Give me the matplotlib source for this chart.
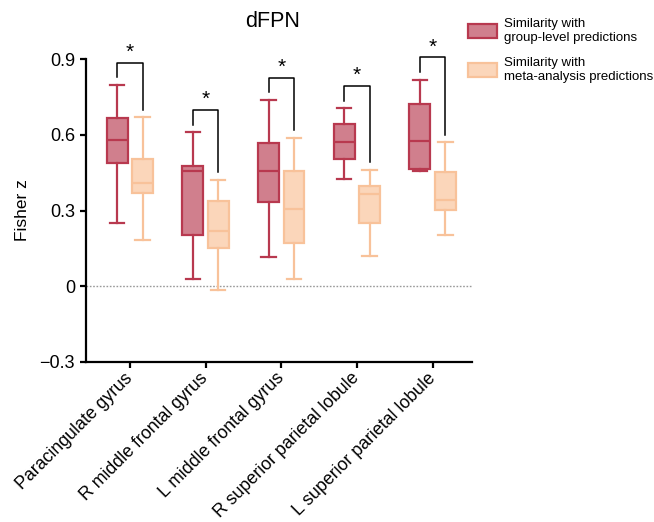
import matplotlib
matplotlib.use("Agg")
import matplotlib.pyplot as plt
from matplotlib.patches import Patch
from matplotlib.transforms import ScaledTranslation

plt.rcParams['font.family'] = ['Liberation Sans', 'DejaVu Sans']

regions = ["Paracingulate gyrus", "R middle frontal gyrus", "L middle frontal gyrus",
           "R superior parietal lobule", "L superior parietal lobule"]

# group-level predictions: whislo, q1, med, q3, whishi
group_whislo = [0.251, 0.029, 0.115, 0.424, 0.456]
group_q1     = [0.489, 0.201, 0.334, 0.503, 0.466]
group_med    = [0.581, 0.457, 0.457, 0.570, 0.577]
group_q3     = [0.665, 0.477, 0.568, 0.641, 0.720]
group_whishi = [0.797, 0.610, 0.738, 0.705, 0.818]

# meta-analysis predictions
meta_whislo = [0.185, -0.013, 0.029, 0.120, 0.201]
meta_q1     = [0.370, 0.151, 0.173, 0.250, 0.302]
meta_med    = [0.409, 0.218, 0.305, 0.366, 0.342]
meta_q3     = [0.503, 0.338, 0.456, 0.398, 0.451]
meta_whishi = [0.669, 0.421, 0.588, 0.461, 0.570]

significant = [True, True, True, True, True]

red_edge, red_fill = "#b8394f", "#d07f8d"
org_edge, org_fill = "#f8c29a", "#fbd6ba"

fig = plt.figure(figsize=(6.54, 5.22), dpi=100)
ax = fig.add_axes([86/654, 1-362/522, (472-86)/654, (362-59)/522])

off = 0.168
width = 0.277

def stats(lo, q1, med, q3, hi):
    return [dict(whislo=a, q1=b, med=c, q3=d, whishi=e, fliers=[]) for a, b, c, d, e in zip(lo, q1, med, q3, hi)]

xs = list(range(len(regions)))
for st, pos, ec, fc in [
    (stats(group_whislo, group_q1, group_med, group_q3, group_whishi), [x - off for x in xs], red_edge, red_fill),
    (stats(meta_whislo, meta_q1, meta_med, meta_q3, meta_whishi), [x + off for x in xs], org_edge, org_fill)]:
    ax.bxp(st, positions=pos, widths=width, patch_artist=True, showfliers=False,
           capwidths=0.19,
           boxprops=dict(facecolor=fc, edgecolor=ec, linewidth=1.6),
           medianprops=dict(color=ec, linewidth=1.6),
           whiskerprops=dict(color=ec, linewidth=1.6),
           capprops=dict(color=ec, linewidth=1.6))

ax.axhline(0, color="#999999", linestyle=(0, (1.2, 1.2)), linewidth=1.0, zorder=0)

for i, sig in enumerate(significant):
    if not sig:
        continue
    top = group_whishi[i] + 0.088
    xl, xr = i - off, i + off
    ax.plot([xl, xl, xr, xr], [group_whishi[i] + 0.03, top, top, meta_whishi[i] + 0.03],
            color="black", linewidth=1.1, clip_on=False)
    ax.text(i, top + 0.003, "*", ha="center", va="bottom", fontsize=15, clip_on=False)

ax.set_xlim(-0.58, 4.52)
ax.set_ylim(-0.3, 0.9)
ax.spines["top"].set_visible(False)
ax.spines["right"].set_visible(False)
ax.spines["left"].set_linewidth(1.6)
ax.spines["bottom"].set_linewidth(1.6)
ax.tick_params(axis="both", direction="out", length=4, width=1.6, pad=4)
ax.set_yticks([-0.3, 0, 0.3, 0.6, 0.9])
ax.set_yticklabels(["\u22120.3", "0", "0.3", "0.6", "0.9"], fontsize=13)
ax.set_xticks(xs)
ax.set_xticklabels(regions, rotation=45, ha="right", rotation_mode="anchor", fontsize=12.8)
shift = ScaledTranslation(-6/100, 3.5/100, fig.dpi_scale_trans)
for lab in ax.get_xticklabels():
    lab.set_transform(lab.get_transform() + shift)
ax.set_ylabel("Fisher z", fontsize=12.5, labelpad=7)
ax.set_title("dFPN", fontsize=15.5, pad=23, x=(273-86)/386)

handles = [Patch(facecolor=red_fill, edgecolor=red_edge, linewidth=1.6),
           Patch(facecolor=org_fill, edgecolor=org_edge, linewidth=1.6)]
fig.legend(handles, ["Similarity with\ngroup-level predictions", "Similarity with\nmeta-analysis predictions"],
           loc="upper left", bbox_to_anchor=(456/654, 1-6/522), frameon=False,
           fontsize=9.5, handlelength=2.2, handleheight=1.3, handletextpad=0.5, labelspacing=1.0)

fig.savefig("out.png", dpi=100)
